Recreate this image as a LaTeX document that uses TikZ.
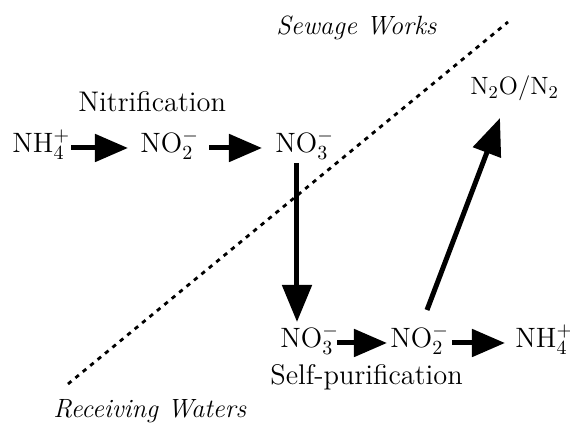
\documentclass[tikz,border=0pt]{standalone}
\usetikzlibrary{arrows.meta}
\begin{document}
\begin{tikzpicture}[x=0.5pt,y=-0.5pt,
  chem/.style={font=\fontsize{14}{16}\selectfont, inner sep=0pt, anchor=base west},
  small/.style={font=\fontsize{12.5}{15}\selectfont, inner sep=0pt, anchor=base west},
  lbl/.style={font=\fontsize{14.2}{17}\selectfont, inner sep=0pt, anchor=base west},
  side/.style={font=\fontsize{13.2}{16}\selectfont\itshape, inner sep=0pt, anchor=base west},
  rx/.style={line width=2.5pt, -{Triangle[length=16.5pt,width=13.5pt]}},
  rxb/.style={line width=2.5pt, -{Triangle[length=18.5pt,width=14.5pt]}},
  border/.style={line width=1.4pt, dash pattern=on 2.2pt off 2.6pt}]
\useasboundingbox (0,0) rectangle (570,432);
% top row
\node[chem] (nh4a) at (12,153) {NH$_4^+$};
\node[chem] (no2a) at (140,153) {NO$_2^-$};
\node[chem] (no3a) at (275,153) {NO$_3^-$};
\node[small] (n2) at (470,95) {N$_2$O/N$_2$};
\node[lbl] (nitr) at (78,112) {Nitrification};
% bottom row
\node[chem] (no3b) at (280,348) {NO$_3^-$};
\node[chem] (no2b) at (390,348) {NO$_2^-$};
\node[chem] (nh4b) at (515,348) {NH$_4^+$};
\node[lbl] (selfp) at (270,385) {Self-purification};
% side labels
\node[side] (sw) at (276,35) {Sewage Works};
\node[side] (rw) at (53,418) {Receiving Waters};
% border
\coordinate (bl) at (68,384);
\coordinate (tr) at (508,22);
\draw[border] (bl) -- (tr);
% arrows
\draw[rx] ([xshift=0.5pt,yshift=2.5pt]nh4a.base east) -- ([xshift=-6pt,yshift=2.5pt]no2a.base west);
\draw[rx] ([xshift=5pt,yshift=2.5pt]no2a.base east) -- ([xshift=-6.5pt,yshift=2.5pt]no3a.base west);
\draw[rxb] ([xshift=11pt,yshift=-5pt]no3a.base west) -- ([xshift=8.5pt,yshift=13pt]no3b.base west);
\draw[rx] ([xshift=-1pt,yshift=2.5pt]no3b.base east) -- ([xshift=-1.5pt,yshift=2.5pt]no2b.base west);
\draw[rx] ([xshift=1.5pt,yshift=2.5pt]no2b.base east) -- ([xshift=-5pt,yshift=2.5pt]nh4b.base west);
\draw[rxb] ([xshift=18.5pt,yshift=19pt]no2b.base west) -- ([xshift=15pt,yshift=-11.5pt]n2.base west);
\end{tikzpicture}
\end{document}
